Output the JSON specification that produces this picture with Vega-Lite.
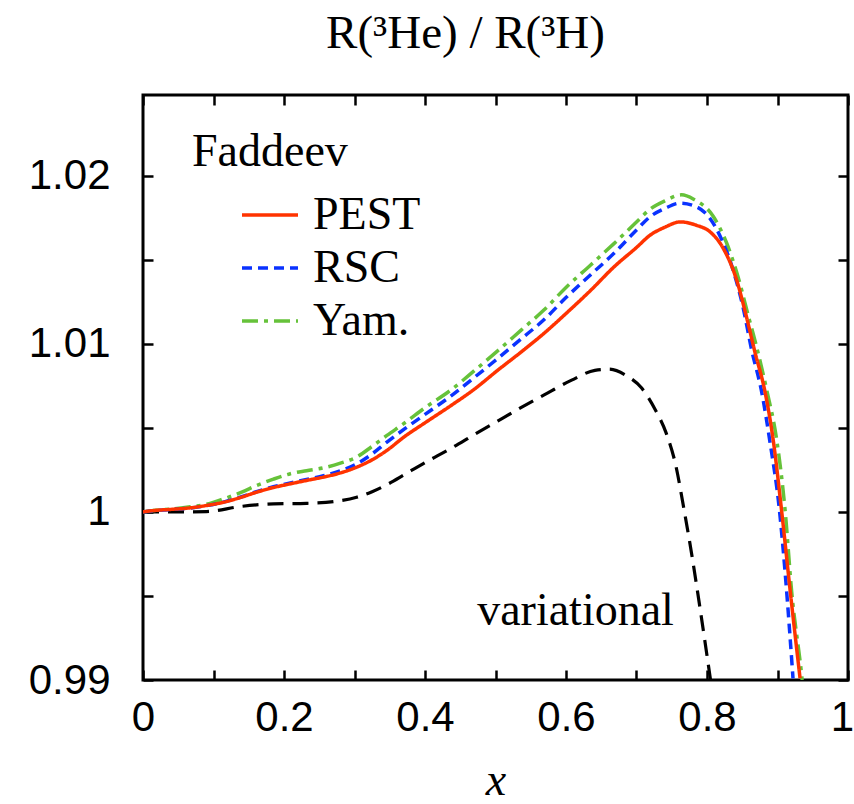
{
  "$schema": "https://vega.github.io/schema/vega-lite/v6.json",
  "width": 705,
  "height": 585,
  "autosize": {"type": "none"},
  "padding": {"left": 143, "top": 95, "right": 6, "bottom": 124},
  "background": "white",
  "title": {"text": "R(³He) / R(³H)", "font": "Liberation Serif", "fontSize": 47, "fontWeight": "normal", "color": "black", "anchor": "middle", "frame": "group", "dx": -30, "baseline": "alphabetic", "offset": -1},
  "config": {"view": {"stroke": "black", "strokeWidth": 3}},
  "datasets": {
    "curves": [
      {"model": "Yam.", "x": 0, "y": 1.0}, {"model": "Yam.", "x": 0.015, "y": 1.00008}, {"model": "Yam.", "x": 0.04, "y": 1.00017}, {"model": "Yam.", "x": 0.067, "y": 1.0003}, {"model": "Yam.", "x": 0.09, "y": 1.00045}, {"model": "Yam.", "x": 0.114, "y": 1.00077}, {"model": "Yam.", "x": 0.14, "y": 1.00118}, {"model": "Yam.", "x": 0.161, "y": 1.00157}, {"model": "Yam.", "x": 0.185, "y": 1.00195}, {"model": "Yam.", "x": 0.209, "y": 1.00227}, {"model": "Yam.", "x": 0.232, "y": 1.00245}, {"model": "Yam.", "x": 0.256, "y": 1.00262}, {"model": "Yam.", "x": 0.28, "y": 1.0029}, {"model": "Yam.", "x": 0.303, "y": 1.00326}, {"model": "Yam.", "x": 0.325, "y": 1.0039}, {"model": "Yam.", "x": 0.346, "y": 1.00455}, {"model": "Yam.", "x": 0.371, "y": 1.00529}, {"model": "Yam.", "x": 0.4, "y": 1.0062}, {"model": "Yam.", "x": 0.437, "y": 1.00726}, {"model": "Yam.", "x": 0.47, "y": 1.0084}, {"model": "Yam.", "x": 0.503, "y": 1.00958}, {"model": "Yam.", "x": 0.536, "y": 1.0108}, {"model": "Yam.", "x": 0.569, "y": 1.01202}, {"model": "Yam.", "x": 0.6, "y": 1.01335}, {"model": "Yam.", "x": 0.635, "y": 1.01469}, {"model": "Yam.", "x": 0.668, "y": 1.01596}, {"model": "Yam.", "x": 0.7, "y": 1.01724}, {"model": "Yam.", "x": 0.719, "y": 1.018}, {"model": "Yam.", "x": 0.74, "y": 1.0185}, {"model": "Yam.", "x": 0.764, "y": 1.01886}, {"model": "Yam.", "x": 0.781, "y": 1.0186}, {"model": "Yam.", "x": 0.809, "y": 1.01757}, {"model": "Yam.", "x": 0.828, "y": 1.01598}, {"model": "Yam.", "x": 0.844, "y": 1.01399}, {"model": "Yam.", "x": 0.859, "y": 1.0116}, {"model": "Yam.", "x": 0.868, "y": 1.0102}, {"model": "Yam.", "x": 0.885, "y": 1.0072}, {"model": "Yam.", "x": 0.899, "y": 1.00425}, {"model": "Yam.", "x": 0.911, "y": 1.0}, {"model": "Yam.", "x": 0.92, "y": 0.9953}, {"model": "Yam.", "x": 0.934, "y": 0.9904}, {"model": "Yam.", "x": 0.935, "y": 0.99},
      {"model": "RSC", "x": 0, "y": 1.0}, {"model": "RSC", "x": 0.015, "y": 1.00007}, {"model": "RSC", "x": 0.04, "y": 1.00014}, {"model": "RSC", "x": 0.067, "y": 1.00023}, {"model": "RSC", "x": 0.09, "y": 1.00037}, {"model": "RSC", "x": 0.114, "y": 1.00058}, {"model": "RSC", "x": 0.14, "y": 1.0009}, {"model": "RSC", "x": 0.161, "y": 1.0012}, {"model": "RSC", "x": 0.185, "y": 1.0015}, {"model": "RSC", "x": 0.209, "y": 1.00172}, {"model": "RSC", "x": 0.232, "y": 1.00193}, {"model": "RSC", "x": 0.256, "y": 1.00215}, {"model": "RSC", "x": 0.28, "y": 1.00245}, {"model": "RSC", "x": 0.303, "y": 1.00285}, {"model": "RSC", "x": 0.325, "y": 1.00345}, {"model": "RSC", "x": 0.346, "y": 1.00415}, {"model": "RSC", "x": 0.371, "y": 1.00494}, {"model": "RSC", "x": 0.4, "y": 1.0058}, {"model": "RSC", "x": 0.437, "y": 1.0069}, {"model": "RSC", "x": 0.47, "y": 1.008}, {"model": "RSC", "x": 0.503, "y": 1.00912}, {"model": "RSC", "x": 0.536, "y": 1.01028}, {"model": "RSC", "x": 0.569, "y": 1.01144}, {"model": "RSC", "x": 0.6, "y": 1.01275}, {"model": "RSC", "x": 0.635, "y": 1.01411}, {"model": "RSC", "x": 0.668, "y": 1.01538}, {"model": "RSC", "x": 0.7, "y": 1.01677}, {"model": "RSC", "x": 0.719, "y": 1.01755}, {"model": "RSC", "x": 0.74, "y": 1.01805}, {"model": "RSC", "x": 0.762, "y": 1.01837}, {"model": "RSC", "x": 0.785, "y": 1.01815}, {"model": "RSC", "x": 0.804, "y": 1.01747}, {"model": "RSC", "x": 0.821, "y": 1.01618}, {"model": "RSC", "x": 0.837, "y": 1.01439}, {"model": "RSC", "x": 0.851, "y": 1.0122}, {"model": "RSC", "x": 0.863, "y": 1.0097}, {"model": "RSC", "x": 0.878, "y": 1.00704}, {"model": "RSC", "x": 0.889, "y": 1.00425}, {"model": "RSC", "x": 0.903, "y": 1.0}, {"model": "RSC", "x": 0.911, "y": 0.9963}, {"model": "RSC", "x": 0.922, "y": 0.9901},
      {"model": "PEST", "x": 0, "y": 1.0}, {"model": "PEST", "x": 0.015, "y": 1.00008}, {"model": "PEST", "x": 0.04, "y": 1.00015}, {"model": "PEST", "x": 0.067, "y": 1.00024}, {"model": "PEST", "x": 0.09, "y": 1.00038}, {"model": "PEST", "x": 0.114, "y": 1.00057}, {"model": "PEST", "x": 0.14, "y": 1.00088}, {"model": "PEST", "x": 0.161, "y": 1.00117}, {"model": "PEST", "x": 0.185, "y": 1.00145}, {"model": "PEST", "x": 0.209, "y": 1.00167}, {"model": "PEST", "x": 0.232, "y": 1.00187}, {"model": "PEST", "x": 0.256, "y": 1.00207}, {"model": "PEST", "x": 0.28, "y": 1.00232}, {"model": "PEST", "x": 0.303, "y": 1.00266}, {"model": "PEST", "x": 0.325, "y": 1.0031}, {"model": "PEST", "x": 0.346, "y": 1.00366}, {"model": "PEST", "x": 0.371, "y": 1.00448}, {"model": "PEST", "x": 0.4, "y": 1.0053}, {"model": "PEST", "x": 0.437, "y": 1.00633}, {"model": "PEST", "x": 0.47, "y": 1.0073}, {"model": "PEST", "x": 0.503, "y": 1.00842}, {"model": "PEST", "x": 0.536, "y": 1.0095}, {"model": "PEST", "x": 0.569, "y": 1.01063}, {"model": "PEST", "x": 0.6, "y": 1.0118}, {"model": "PEST", "x": 0.635, "y": 1.01318}, {"model": "PEST", "x": 0.668, "y": 1.01457}, {"model": "PEST", "x": 0.7, "y": 1.01573}, {"model": "PEST", "x": 0.719, "y": 1.01645}, {"model": "PEST", "x": 0.74, "y": 1.01693}, {"model": "PEST", "x": 0.762, "y": 1.01725}, {"model": "PEST", "x": 0.785, "y": 1.01705}, {"model": "PEST", "x": 0.804, "y": 1.01667}, {"model": "PEST", "x": 0.823, "y": 1.01568}, {"model": "PEST", "x": 0.842, "y": 1.0138}, {"model": "PEST", "x": 0.856, "y": 1.0116}, {"model": "PEST", "x": 0.868, "y": 1.0095}, {"model": "PEST", "x": 0.882, "y": 1.0072}, {"model": "PEST", "x": 0.894, "y": 1.00425}, {"model": "PEST", "x": 0.906, "y": 1.0}, {"model": "PEST", "x": 0.918, "y": 0.9953}, {"model": "PEST", "x": 0.932, "y": 0.9901},
      {"model": "variational", "x": 0, "y": 1.0}, {"model": "variational", "x": 0.043, "y": 1.0}, {"model": "variational", "x": 0.09, "y": 1.00002}, {"model": "variational", "x": 0.138, "y": 1.00032}, {"model": "variational", "x": 0.185, "y": 1.00048}, {"model": "variational", "x": 0.232, "y": 1.00051}, {"model": "variational", "x": 0.27, "y": 1.00061}, {"model": "variational", "x": 0.303, "y": 1.00087}, {"model": "variational", "x": 0.325, "y": 1.0012}, {"model": "variational", "x": 0.346, "y": 1.00162}, {"model": "variational", "x": 0.371, "y": 1.00222}, {"model": "variational", "x": 0.4, "y": 1.00293}, {"model": "variational", "x": 0.437, "y": 1.00378}, {"model": "variational", "x": 0.47, "y": 1.0046}, {"model": "variational", "x": 0.503, "y": 1.0054}, {"model": "variational", "x": 0.536, "y": 1.0062}, {"model": "variational", "x": 0.569, "y": 1.00696}, {"model": "variational", "x": 0.608, "y": 1.00784}, {"model": "variational", "x": 0.641, "y": 1.00842}, {"model": "variational", "x": 0.661, "y": 1.00849}, {"model": "variational", "x": 0.687, "y": 1.00807}, {"model": "variational", "x": 0.707, "y": 1.00738}, {"model": "variational", "x": 0.727, "y": 1.00605}, {"model": "variational", "x": 0.742, "y": 1.0047}, {"model": "variational", "x": 0.755, "y": 1.0029}, {"model": "variational", "x": 0.768, "y": 1.0}, {"model": "variational", "x": 0.779, "y": 0.9973}, {"model": "variational", "x": 0.79, "y": 0.9943}, {"model": "variational", "x": 0.805, "y": 0.99}
    ],
    "notes": [{"x": 0.474, "y": 0.99327, "label": "variational"}]
  },
  "layer": [
    {
      "mark": {"type": "rule", "color": "black", "strokeWidth": 2},
      "encoding": {"y": {"datum": 1, "type": "quantitative", "scale": {"domain": [0.99, 1.0248], "nice": false, "zero": false}, "axis": null}}
    },
    {
      "data": {"name": "curves"},
      "transform": [{"filter": "datum.model === 'variational'"}],
      "mark": {"type": "line", "color": "black", "strokeWidth": 3.2, "strokeDash": [16, 9], "clip": true, "interpolate": "monotone"},
      "encoding": {
        "x": {"field": "x", "type": "quantitative", "scale": {"domain": [0, 1], "nice": false, "zero": false},
          "axis": {"orient": "top", "values": [0, 0.1, 0.2, 0.3, 0.4, 0.5, 0.6, 0.7, 0.8, 0.9, 1], "labels": false, "domain": false, "grid": false, "tickSize": -10, "tickWidth": 2.5, "tickColor": "black", "title": null, "minExtent": 0, "maxExtent": 0}},
        "y": {"field": "y", "type": "quantitative", "scale": {"domain": [0.99, 1.0248], "nice": false, "zero": false},
          "axis": {"orient": "right", "values": [0.99, 0.995, 1, 1.005, 1.01, 1.015, 1.02], "labels": false, "domain": false, "grid": false, "tickSize": -10, "tickWidth": 2.5, "tickColor": "black", "title": null, "minExtent": 0, "maxExtent": 0}}
      }
    },
    {
      "data": {"name": "curves"},
      "transform": [{"filter": "datum.model !== 'variational'"}],
      "mark": {"type": "line", "strokeWidth": 3.5, "clip": true, "interpolate": "monotone"},
      "encoding": {
        "x": {"field": "x", "type": "quantitative", "scale": {"domain": [0, 1], "nice": false, "zero": false},
          "axis": {"orient": "bottom", "values": [0, 0.1, 0.2, 0.3, 0.4, 0.5, 0.6, 0.7, 0.8, 0.9, 1], "labelExpr": "round(datum.value*10)%2===0 ? format(datum.value,'~g') : ''", "labelOffset": {"condition": {"test": "datum.value >= 0.99", "value": -6}, "value": 0}, "domain": false, "grid": false, "tickSize": -10, "tickWidth": 2.5, "tickColor": "black", "labelFont": "Liberation Sans", "labelFontSize": 42, "labelColor": "black", "labelPadding": 27, "labelFlush": false, "labelOverlap": false, "title": "x", "titleFont": "Liberation Serif", "titleFontStyle": "italic", "titleFontWeight": "normal", "titleFontSize": 46, "titleColor": "black", "titlePadding": 20}},
        "y": {"field": "y", "type": "quantitative", "scale": {"domain": [0.99, 1.0248], "nice": false, "zero": false},
          "axis": {"orient": "left", "values": [0.99, 0.995, 1, 1.005, 1.01, 1.015, 1.02], "labelExpr": "round(datum.value*200)%2===0 ? format(datum.value,'~g') : ''", "domain": false, "grid": false, "tickSize": -10, "tickWidth": 2.5, "tickColor": "black", "labelFont": "Liberation Sans", "labelFontSize": 42, "labelColor": "black", "labelPadding": 43, "labelFlush": false, "labelOverlap": false, "title": null}},
        "color": {"field": "model", "type": "nominal", "title": "Faddeev",
          "scale": {"domain": ["PEST", "RSC", "Yam."], "range": ["#ff3300", "#0a32ff", "#66c23a"]},
          "legend": {"orient": "none", "legendX": 49, "legendY": 35, "padding": 0, "titleFont": "Liberation Serif", "titleFontSize": 46, "titleFontWeight": "normal", "titleColor": "black", "titlePadding": 9, "labelFont": "Liberation Serif", "labelFontSize": 46, "labelColor": "black", "labelLimit": 0, "symbolType": "stroke", "symbolSize": 3136, "symbolStrokeWidth": 3.5, "symbolOffset": 48, "labelOffset": 13, "rowPadding": -1.5}},
        "strokeDash": {"field": "model", "type": "nominal", "title": "Faddeev",
          "scale": {"domain": ["PEST", "RSC", "Yam."], "range": [[1, 0], [10, 6], [16, 6, 4, 6]]},
          "legend": {"orient": "none", "legendX": 49, "legendY": 35, "padding": 0, "titleFont": "Liberation Serif", "titleFontSize": 46, "titleFontWeight": "normal", "titleColor": "black", "titlePadding": 9, "labelFont": "Liberation Serif", "labelFontSize": 46, "labelColor": "black", "labelLimit": 0, "symbolType": "stroke", "symbolSize": 3136, "symbolStrokeWidth": 3.5, "symbolOffset": 48, "labelOffset": 13, "rowPadding": -1.5}}
      }
    },
    {
      "data": {"name": "notes"},
      "mark": {"type": "text", "font": "Liberation Serif", "fontSize": 46, "color": "black", "align": "left", "baseline": "alphabetic"},
      "encoding": {
        "x": {"field": "x", "type": "quantitative", "scale": {"domain": [0, 1], "nice": false, "zero": false}, "axis": null},
        "y": {"field": "y", "type": "quantitative", "scale": {"domain": [0.99, 1.0248], "nice": false, "zero": false}, "axis": null},
        "text": {"field": "label"}
      }
    }
  ],
  "resolve": {"axis": {"x": "independent", "y": "independent"}}
}
